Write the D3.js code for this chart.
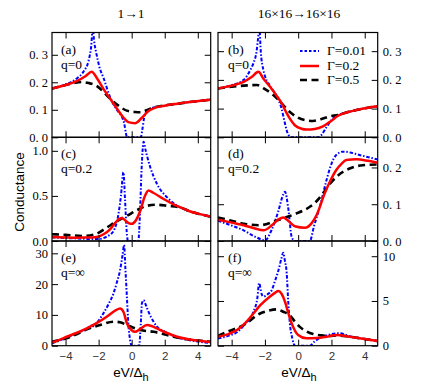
<!DOCTYPE html>
<html><head><meta charset="utf-8">
<script src="https://cdn.jsdelivr.net/npm/d3@7/dist/d3.min.js"></script>
<style>body{margin:0;background:#fff}svg{display:block}</style>
</head><body>
<script>
// ---------------- DATA ----------------
const seriesNames = ["Γ=0.01", "Γ=0.2", "Γ=0.5"];
const columnTitles = ["1→1", "16×16→16×16"];
const panelLabels = ["(a)", "(b)", "(c)", "(d)", "(e)", "(f)"];
const qLabels = ["q=0", "q=0", "q=0.2", "q=0.2", "q=∞", "q=∞"];
const xTicks = [-4, -2, 0, 2, 4];
const xTickLabels = ["−4", "−2", "0", "2", "4"];
const yMax = [0.381, 0.365, 1.15, 0.282, 34, 11.7];
const yTicksA = [0, 0.1, 0.2, 0.3];
const yLabelsA = ["0. 0", "0. 1", "0. 2", "0. 3"];
const yTicksB = [0, 0.1, 0.2, 0.3];
const yLabelsB = ["0. 0", "0. 1", "0. 2", "0. 3"];
const yTicksC = [0, 0.5, 1.0];
const yLabelsC = ["0.0", "0.5", "1.0"];
const yTicksD = [0, 0.1, 0.2];
const yLabelsD = ["0. 0", "0. 1", "0. 2"];
const yTicksE = [0, 10, 20, 30];
const yLabelsE = ["0", "10", "20", "30"];
const yTicksF = [0, 5, 10];
const yLabelsF = ["0", "5", "10"];

// panel (a) 1->1, q=0
const a_blue = [[-4.82,0.177],[-4,0.192],[-3.3,0.215],[-2.9,0.24],[-2.6,0.28],[-2.45,0.33],[-2.36,0.39],[-2.25,0.34],[-2.12,0.3],[-1.95,0.255],[-1.7,0.215],[-1.3,0.145],[-0.9,0.1],[-0.6,0.075],[-0.45,0.05],[-0.35,0.015],[-0.28,0],[0.55,0],[0.65,0.03],[0.75,0.07],[0.9,0.095],[1.2,0.106],[1.6,0.111],[2,0.115],[2.75,0.122],[3.5,0.128],[4.2,0.133],[4.8,0.137]];
const a_red = [[-4.82,0.177],[-4,0.19],[-3.3,0.205],[-2.8,0.222],[-2.42,0.238],[-2.1,0.215],[-1.7,0.175],[-1.3,0.14],[-0.9,0.105],[-0.5,0.072],[-0.2,0.055],[0.2,0.051],[0.6,0.07],[1.0,0.095],[1.4,0.107],[2,0.115],[2.75,0.122],[3.5,0.128],[4.2,0.133],[4.8,0.137]];
const a_black = [[-4.82,0.177],[-4,0.19],[-3.5,0.197],[-3.03,0.201],[-2.6,0.197],[-2.12,0.187],[-1.7,0.165],[-1.3,0.14],[-0.8,0.115],[-0.3,0.097],[0.2,0.092],[0.52,0.091],[0.9,0.098],[1.33,0.108],[2,0.116],[2.75,0.122],[3.5,0.128],[4.2,0.133],[4.8,0.137]];

// panel (b) 16x16, q=0
const b_blue = [[-4.82,0.170],[-4,0.182],[-3.28,0.2],[-2.88,0.234],[-2.69,0.258],[-2.5,0.3],[-2.4,0.35],[-2.33,0.38],[-2.25,0.3],[-2.09,0.234],[-1.69,0.178],[-1.3,0.145],[-1.0,0.1],[-0.8,0.05],[-0.69,0.024],[-0.55,0.005],[-0.45,0],[1.2,0],[1.4,0.008],[1.7,0.035],[2.09,0.066],[2.5,0.079],[3,0.088],[3.5,0.095],[4.2,0.103],[4.78,0.108]];
const b_red = [[-4.82,0.170],[-4,0.18],[-3.28,0.193],[-2.8,0.21],[-2.39,0.228],[-2.1,0.205],[-1.69,0.176],[-1.3,0.145],[-0.99,0.118],[-0.7,0.085],[-0.5,0.065],[-0.2,0.042],[0.2,0.03],[0.5,0.027],[1.0,0.029],[1.49,0.038],[2.0,0.058],[2.4,0.075],[3.0,0.088],[3.5,0.095],[4.2,0.103],[4.78,0.108]];
const b_black = [[-4.82,0.170],[-4,0.176],[-3.28,0.18],[-2.48,0.182],[-2.0,0.168],[-1.49,0.147],[-0.99,0.118],[-0.5,0.088],[-0.1,0.071],[0.4,0.06],[0.9,0.057],[1.4,0.064],[1.9,0.073],[2.4,0.078],[3,0.088],[3.5,0.095],[4.2,0.103],[4.78,0.108]];

// panel (c) 1->1, q=0.2
const c_blue = [[-4.82,0.04],[-4,0.033],[-3.3,0.028],[-2.5,0.022],[-2.0,0.022],[-1.5,0.05],[-1.1,0.11],[-0.8,0.3],[-0.65,0.5],[-0.5,0.763],[-0.4,0.45],[-0.3,0.1],[-0.22,0],[0.4,0],[0.5,0.3],[0.6,0.8],[0.72,1.10],[0.85,1.0],[1.12,0.82],[1.53,0.633],[2.14,0.484],[2.6,0.41],[2.95,0.372],[3.5,0.33],[4.2,0.295],[4.8,0.268]];
const c_red = [[-4.82,0.045],[-4,0.04],[-3.33,0.037],[-2.7,0.038],[-2.12,0.045],[-1.7,0.075],[-1.31,0.13],[-1.0,0.2],[-0.75,0.245],[-0.6,0.254],[-0.4,0.23],[-0.15,0.195],[0.0,0.19],[0.2,0.215],[0.52,0.335],[0.8,0.5],[1.02,0.56],[1.3,0.535],[1.93,0.466],[2.5,0.41],[2.95,0.372],[3.5,0.33],[4.2,0.295],[4.8,0.268]];
const c_black = [[-4.82,0.075],[-4,0.068],[-2.9,0.056],[-2.2,0.075],[-1.51,0.149],[-0.9,0.22],[-0.29,0.279],[0.3,0.34],[0.92,0.39],[1.53,0.402],[2.2,0.39],[2.95,0.372],[3.5,0.33],[4.2,0.295],[4.8,0.268]];

// panel (d) 16x16, q=0.2
const d_blue = [[-4.82,0.055],[-4,0.042],[-3.28,0.029],[-2.6,0.012],[-1.99,0.002],[-1.6,0.03],[-1.2,0.08],[-0.95,0.12],[-0.79,0.134],[-0.6,0.09],[-0.39,0.011],[-0.2,0],[0.7,0],[0.95,0.04],[1.3,0.093],[1.7,0.165],[2.0,0.21],[2.29,0.234],[2.69,0.243],[3.2,0.24],[3.68,0.234],[4.3,0.227],[4.78,0.222]];
const d_red = [[-4.82,0.058],[-4,0.05],[-3.28,0.043],[-2.6,0.034],[-2.09,0.029],[-1.6,0.042],[-1.2,0.058],[-0.9,0.064],[-0.6,0.055],[-0.2,0.04],[0.4,0.036],[0.8,0.048],[1.1,0.07],[1.59,0.129],[2.0,0.17],[2.29,0.193],[2.6,0.21],[2.89,0.22],[3.5,0.222],[4.2,0.218],[4.78,0.213]];
const d_black = [[-4.82,0.064],[-4,0.055],[-3.28,0.047],[-2.29,0.043],[-1.29,0.056],[-0.5,0.068],[-0.1,0.075],[0.7,0.093],[1.1,0.108],[1.49,0.129],[1.9,0.155],[2.29,0.174],[3.09,0.197],[3.88,0.206],[4.78,0.208]];

// panel (e) 1->1, q=inf
const e_blue = [[-4.82,0.8],[-4,2.4],[-3.3,4.1],[-2.7,5.5],[-2.45,6.6],[-2.35,6.3],[-2.1,7.5],[-1.71,10.5],[-1.4,13.5],[-1.1,17],[-0.9,20.5],[-0.7,24.6],[-0.55,29.5],[-0.46,32.7],[-0.38,25],[-0.29,15.9],[-0.2,7],[-0.1,2],[0,0],[0.45,0],[0.55,7],[0.62,13.8],[0.72,14.8],[0.85,13.3],[1.02,11],[1.3,8],[1.53,6.2],[2.0,4.6],[2.75,2.7],[3.5,1.8],[4.2,1.2],[4.8,0.9]];
const e_red = [[-4.82,1.0],[-4.4,1.8],[-3.94,2.9],[-3.3,4.2],[-2.72,5.6],[-2.1,7.4],[-1.51,9.4],[-1.0,11.4],[-0.7,12.1],[-0.5,11],[-0.29,7.3],[0,5],[0.21,4.5],[0.5,5.4],[0.92,6.7],[1.2,6.4],[1.53,5.6],[2.1,4.2],[2.75,2.9],[3.5,2.0],[4.2,1.5],[4.8,1.2]];
const e_black = [[-4.82,1.3],[-3.94,2.4],[-3.3,3.8],[-2.72,5.3],[-1.91,6.7],[-1.1,7.8],[-0.7,7.6],[-0.29,6.7],[0.52,5.1],[1.33,4.5],[1.9,3.8],[2.54,2.9],[3.5,2.0],[4.2,1.6],[4.8,1.3]];

// panel (f) 16x16, q=inf
const f_blue = [[-4.82,0.8],[-4.2,1.1],[-3.68,1.5],[-3.2,2.4],[-2.69,3.8],[-2.45,5.4],[-2.35,7.0],[-2.2,5.8],[-2.09,5.5],[-1.8,5.8],[-1.59,6.2],[-1.4,7.2],[-1.19,8.4],[-1.0,9.8],[-0.9,10.4],[-0.8,9.5],[-0.69,8.1],[-0.6,5],[-0.5,2.5],[-0.35,0.8],[-0.2,0],[0.7,0],[1.0,0.5],[1.49,1.0],[2.0,1.3],[2.49,1.4],[3.1,1.05],[4.0,0.75],[4.78,0.5]];
const f_red = [[-4.82,1.0],[-4.2,1.3],[-3.68,1.75],[-3.2,2.5],[-2.69,3.6],[-2.29,4.5],[-1.69,5.5],[-1.4,5.9],[-1.19,6.1],[-1.0,5.8],[-0.79,4.9],[-0.6,3.7],[-0.39,2.5],[0,1.2],[0.5,0.82],[1.1,0.85],[1.7,1.0],[2.29,1.2],[3.1,1.0],[4.0,0.75],[4.78,0.52]];
const f_black = [[-4.82,1.1],[-4.2,1.6],[-3.28,2.3],[-2.29,3.6],[-1.8,3.9],[-1.29,4.06],[-0.9,3.8],[-0.5,3.4],[-0.2,2.7],[0.1,2.1],[0.5,1.6],[0.9,1.3],[1.4,1.15],[1.9,1.08],[2.3,1.15],[3.1,1.0],[4.0,0.75],[4.78,0.52]];

// ---------------- CHART ----------------
const W = 436, H = 387;
const svg = d3.select("body").append("svg").attr("width", W).attr("height", H);
const serif = "'Liberation Serif','Times New Roman',serif";
const sans = "'Liberation Sans',Arial,sans-serif";

const colX = [[52, 210.7], [218, 377.7]];
const rowY = [[32.5, 137.3], [137.3, 241], [241, 345.7]];
const xDomain = [-4.82, 4.78];

const panels = [
  {data:[a_blue,a_red,a_black], ticks:yTicksA, labels:yLabelsA},
  {data:[b_blue,b_red,b_black], ticks:yTicksB, labels:yLabelsB},
  {data:[c_blue,c_red,c_black], ticks:yTicksC, labels:yLabelsC},
  {data:[d_blue,d_red,d_black], ticks:yTicksD, labels:yLabelsD},
  {data:[e_blue,e_red,e_black], ticks:yTicksE, labels:yLabelsE},
  {data:[f_blue,f_red,f_black], ticks:yTicksF, labels:yLabelsF}
];
const styles = [
  {color:"#0000ff", width:2, dash:"3.5,1.8,1.5,1.8"},
  {color:"#ff0000", width:2.5, dash:null},
  {color:"#000000", width:2.6, dash:"7,4.5"}
];
const tickLen = 6;

panels.forEach((p, i) => {
  const col = i % 2, row = Math.floor(i / 2);
  const [x0, x1] = colX[col], [y0, y1] = rowY[row];
  const x = d3.scaleLinear().domain(xDomain).range([x0, x1]);
  const y = d3.scaleLinear().domain([0, yMax[i]]).range([y1, y0]);
  const g = svg.append("g");
  const cid = "clip" + i;
  svg.append("clipPath").attr("id", cid).append("rect")
    .attr("x", x0).attr("y", y0).attr("width", x1 - x0).attr("height", y1 - y0);

  const line = d3.line().x(d => x(d[0])).y(d => y(d[1])).curve(d3.curveMonotoneX);
  const lg = g.append("g").attr("clip-path", `url(#${cid})`);
  // draw black first, then red, then blue on top? reference: blue on bottom-ish; draw blue, black, red
  [0, 2, 1].forEach(k => {
    const s = styles[k];
    lg.append("path").datum(p.data[k]).attr("d", line)
      .attr("fill", "none").attr("stroke", s.color).attr("stroke-width", s.width)
      .attr("stroke-dasharray", s.dash).attr("stroke-linejoin", "round");
  });

  // axes with inward ticks
  const fmt = (ticks, labels) => v => labels[ticks.indexOf(v)] ?? "";
  const leftAx = d3.axisLeft(y).tickValues(p.ticks).tickSizeInner(-tickLen).tickSizeOuter(0).tickPadding(4)
    .tickFormat(col === 0 ? fmt(p.ticks, p.labels) : () => "");
  const rightAx = d3.axisRight(y).tickValues(p.ticks).tickSizeInner(-tickLen).tickSizeOuter(0).tickPadding(5)
    .tickFormat(col === 1 ? fmt(p.ticks, p.labels) : () => "");
  const botAx = d3.axisBottom(x).tickValues(xTicks).tickSizeInner(-tickLen).tickSizeOuter(0).tickPadding(6)
    .tickFormat(row === 2 ? fmt(xTicks, xTickLabels) : () => "");
  const topAx = d3.axisTop(x).tickValues(xTicks).tickSizeInner(-tickLen).tickSizeOuter(0).tickFormat(() => "");

  const axes = [
    g.append("g").attr("transform", `translate(${x0},0)`).call(leftAx),
    g.append("g").attr("transform", `translate(${x1},0)`).call(rightAx),
    g.append("g").attr("transform", `translate(0,${y1})`).call(botAx),
    g.append("g").attr("transform", `translate(0,${y0})`).call(topAx)
  ];
  axes.forEach(a => {
    a.select(".domain").remove();
    a.selectAll(".tick line").attr("stroke", "#000").attr("stroke-width", 1);
    a.selectAll(".tick text").attr("font-family", serif).attr("font-size", 12.5).attr("fill", "#000");
  });
  axes[2].selectAll(".tick text").attr("font-family", sans).attr("font-size", 11.5).attr("fill", "#333");

  g.append("rect").attr("x", x0).attr("y", y0).attr("width", x1 - x0).attr("height", y1 - y0)
    .attr("fill", "none").attr("stroke", "#000").attr("stroke-width", 1.2);

  // panel labels
  const lx = col === 0 ? 61 : 228;
  g.append("text").attr("x", lx).attr("y", y0 + 21).text(panelLabels[i])
    .attr("font-family", serif).attr("font-size", 13.5);
  g.append("text").attr("x", lx).attr("y", y0 + 36).text(qLabels[i])
    .attr("font-family", serif).attr("font-size", 13.5);

  // legend in panel (b)
  if (i === 1) {
    const rows = [55, 70, 84];
    rows.forEach((ry, k) => {
      const s = styles[k];
      g.append("line").attr("x1", 300).attr("x2", 319).attr("y1", ry - 4).attr("y2", ry - 4)
        .attr("stroke", s.color).attr("stroke-width", s.width)
        .attr("stroke-dasharray", k === 0 ? "2.5,2" : s.dash);
      g.append("text").attr("x", 327).attr("y", ry).text(seriesNames[k])
        .attr("font-family", serif).attr("font-size", 13.5);
    });
  }
});

// column titles
[[131, columnTitles[0]], [299, columnTitles[1]]].forEach(([cx, t]) => {
  svg.append("text").attr("x", cx).attr("y", 18).attr("text-anchor", "middle").text(t)
    .attr("font-family", serif).attr("font-size", 13.5);
});

// axis titles
svg.append("text").attr("transform", "translate(24,192) rotate(-90)").attr("text-anchor", "middle")
  .text("Conductance").attr("font-family", sans).attr("font-size", 13.5);
[131, 299].forEach(cx => {
  const t = svg.append("text").attr("x", cx).attr("y", 377).attr("text-anchor", "middle")
    .attr("font-family", sans).attr("font-size", 13.5);
  t.append("tspan").text("eV/Δ");
  t.append("tspan").attr("dy", 4).attr("font-size", 11).text("h");
});
</script>
</body></html>
